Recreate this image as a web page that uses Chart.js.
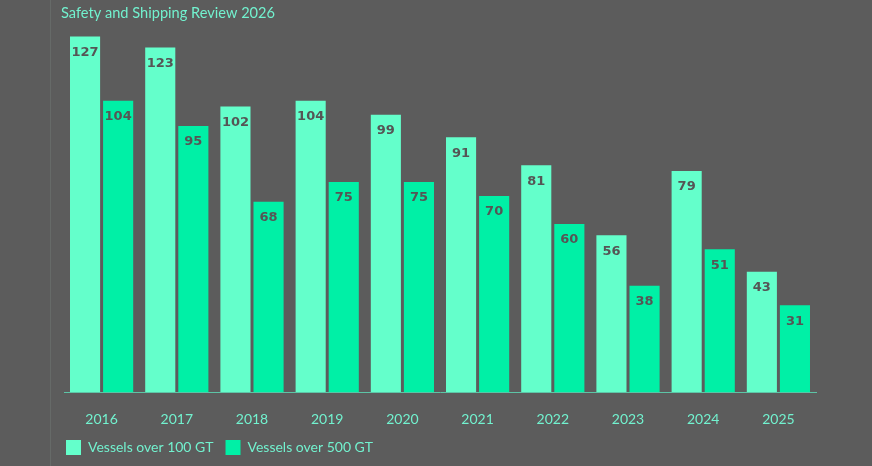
<!DOCTYPE html>
<html>
<head>
<meta charset="utf-8">
<script src="https://cdn.jsdelivr.net/npm/chart.js@4"></script>
<style>
  html, body { margin: 0; padding: 0; background: #5c5c5c; }
  #wrap { width: 872px; height: 466px; position: relative; }
</style>
</head>
<body>
<div id="wrap"><canvas id="chartVessels"></canvas></div>
<script>
const years = ["2016", "2017", "2018", "2019", "2020", "2021", "2022", "2023", "2024", "2025"];
const over100 = [127, 123, 102, 104, 99, 91, 81, 56, 79, 43];
const over500 = [104, 95, 68, 75, 75, 70, 60, 38, 51, 31];
const seriesNames = ["Vessels over 100 GT", "Vessels over 500 GT"];
const chartTitle = "Safety and Shipping Review 2026";

const mint = "#64ffcb";
const green = "#00f0a6";
const textMint = "#72f2cf";

// title, left rule and bar labels drawn on the canvas
const decor = {
  id: "decor",
  beforeDraw(chart) {
    const c = chart.ctx;
    c.save();
    c.fillStyle = "#5c5c5c";
    c.fillRect(0, 0, chart.width, chart.height);
    c.strokeStyle = "#666a68";
    c.lineWidth = 1;
    c.beginPath();
    c.moveTo(50.5, 0);
    c.lineTo(50.5, chart.height);
    c.stroke();
    c.fillStyle = textMint;
    c.font = "14.6px Lato";
    c.textBaseline = "middle";
    c.fillText(chartTitle, 61, 13);
    c.restore();
  },
  afterDatasetsDraw(chart) {
    const c = chart.ctx;
    c.save();
    c.fillStyle = "#555555";
    c.font = "bold 13px 'DejaVu Sans'";
    c.textAlign = "center";
    c.textBaseline = "middle";
    chart.data.datasets.forEach((ds, i) => {
      chart.getDatasetMeta(i).data.forEach((bar, j) => {
        c.fillText(ds.data[j], bar.x, bar.y + 16);
      });
    });
    c.restore();
  }
};

new Chart(document.getElementById("chartVessels"), {
  type: "bar",
  data: {
    labels: years,
    datasets: [
      { label: seriesNames[0], data: over100, backgroundColor: mint },
      { label: seriesNames[1], data: over500, backgroundColor: green },
    ],
  },
  options: {
    responsive: true,
    maintainAspectRatio: false,
    animation: false,
    categoryPercentage: 0.88,
    barPercentage: 0.91,
    layout: { padding: { left: 54, right: 56, top: 28, bottom: 1 } },
    plugins: {
      tooltip: { enabled: false },
      legend: {
        position: "bottom",
        align: "start",
        labels: {
          color: textMint,
          font: { family: "Lato", size: 14 },
          boxWidth: 15,
          boxHeight: 15,
          padding: 12,
        },
      },
    },
    scales: {
      x: {
        grid: { display: false, drawTicks: false },
        border: { color: "#5dc4a6", width: 1 },
        ticks: { color: textMint, font: { family: "Lato", size: 14 }, padding: 19 },
        afterFit(scale) { scale.height -= 19; },
      },
      y: {
        min: 0,
        max: 130,
        grid: { display: false, drawTicks: false },
        border: { display: false },
        ticks: { display: false },
        afterFit(scale) { scale.width = 10; },
      },
    },
  },
  plugins: [decor],
});
</script>
</body>
</html>
